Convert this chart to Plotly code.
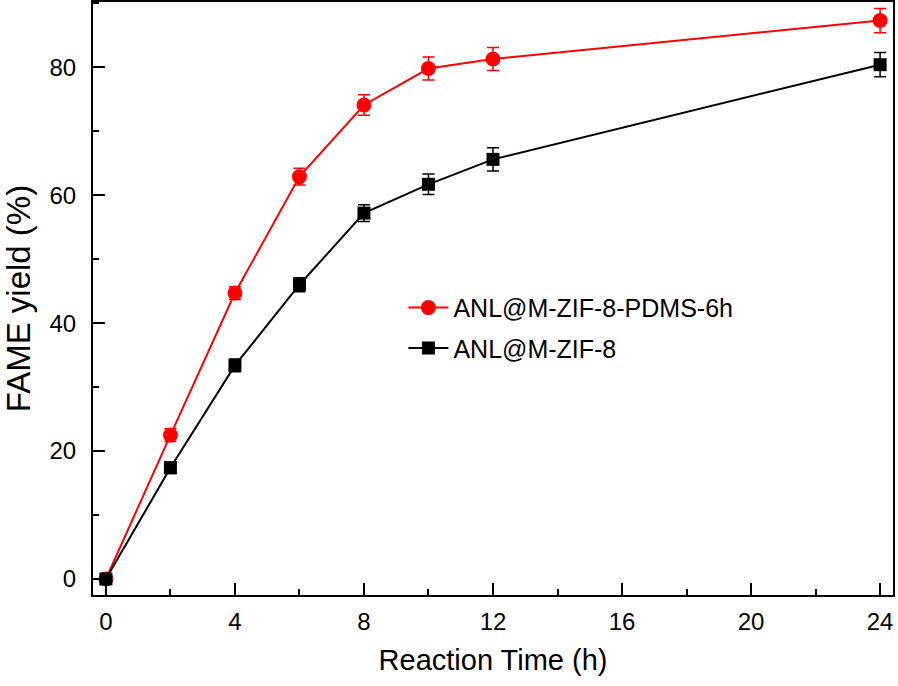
import plotly.graph_objects as go

time_h = [0, 2, 4, 6, 8, 10, 12, 24]
pdms_yield = [0, 22.5, 44.7, 62.9, 74.1, 79.8, 81.3, 87.3]
pdms_err = [0.8, 1.0, 1.0, 1.3, 1.6, 1.8, 1.8, 1.9]
zif_yield = [0, 17.4, 33.4, 46.0, 57.2, 61.7, 65.6, 80.4]
zif_err = [0.8, 0.9, 1.0, 1.1, 1.3, 1.6, 1.8, 1.9]
series_names = ["ANL@M-ZIF-8-PDMS-6h", "ANL@M-ZIF-8"]
x_ticks = [0, 4, 8, 12, 16, 20, 24]
y_ticks = [0, 20, 40, 60, 80]

FONT = "Liberation Sans, Arial, sans-serif"

fig = go.Figure()
fig.add_trace(go.Scatter(
    x=time_h, y=pdms_yield, name=series_names[0], mode="lines+markers",
    legendgroup="a",
    line=dict(color="#ff0000", width=2),
    marker=dict(symbol="circle", size=15, color="#ff0000"),
    error_y=dict(type="data", array=pdms_err, visible=True, color="#ff0000", thickness=1.5, width=6),
))
fig.add_trace(go.Scatter(
    x=time_h, y=zif_yield, name=series_names[1], mode="lines+markers",
    legendgroup="b",
    line=dict(color="#000000", width=2),
    marker=dict(symbol="square", size=13, color="#000000"),
    error_y=dict(type="data", array=zif_err, visible=True, color="#000000", thickness=1.5, width=6),
))

axis_common = dict(
    showline=True, linecolor="black", linewidth=2, mirror=True,
    ticks="inside", ticklen=12, tickwidth=2, tickcolor="black",
    showgrid=False, zeroline=False,
    tickfont=dict(family=FONT, size=24, color="black"),
)

fig.update_xaxes(
    range=[-0.4, 24.4], tickvals=x_ticks, ticktext=[str(v) for v in x_ticks],
    minor=dict(ticks="inside", ticklen=6, tickwidth=2, tickcolor="black", dtick=2, tick0=0),
    ticklabelstandoff=4,
    title=dict(text="Reaction Time (h)", font=dict(family=FONT, size=29, color="black"), standoff=16),
    **axis_common,
)
fig.update_yaxes(
    range=[-2.5, 90.2], tickvals=y_ticks, ticktext=[str(v) for v in y_ticks],
    minor=dict(ticks="inside", ticklen=6, tickwidth=2, tickcolor="black", dtick=10, tick0=0),
    ticklabelstandoff=10,
    title=dict(text="FAME yield (%)", font=dict(family=FONT, size=33, color="black"), standoff=16),
    **axis_common,
)

fig.update_layout(
    width=898, height=686,
    margin=dict(l=93, r=5, t=2, b=91, autoexpand=False),
    paper_bgcolor="white", plot_bgcolor="white",
    showlegend=True,
    legend=dict(
        x=0.388, y=0.523, xanchor="left", yanchor="top",
        bgcolor="rgba(0,0,0,0)", borderwidth=0,
        font=dict(family=FONT, size=25, color="black"),
        itemwidth=40, tracegroupgap=5, traceorder="grouped",
    ),
)

fig.write_html(
    "out.html",
    config={"displayModeBar": False},
    post_script="document.body.style.margin='0';document.body.style.overflow='hidden';",
)
